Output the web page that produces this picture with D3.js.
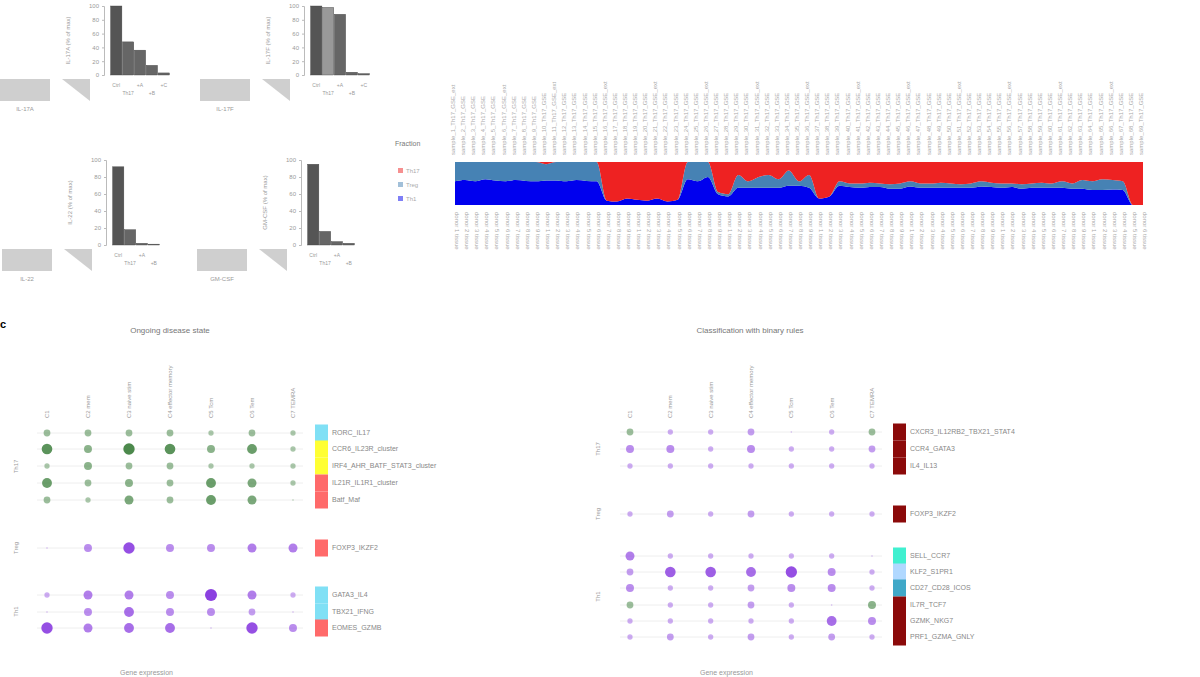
<!DOCTYPE html>
<html><head><meta charset="utf-8">
<script src="https://cdn.jsdelivr.net/npm/d3@7"></script>
<style>body{margin:0;background:#fff;font-family:Arial,"Liberation Sans",sans-serif}</style>
</head><body><svg id="c" width="1200" height="677"></svg>
<script>
// ---- data ----
const barPanels = [
  {name:"IL-17A", cats:["Ctrl","Th17","+A","+B","+C"], values:[100,48,36,14,3]},
  {name:"IL-17F", cats:["Ctrl","Th17","+A","+B","+C"], values:[100,98,88,4,2]},
  {name:"IL-22",  cats:["Ctrl","Th17","+A","+B"], values:[92,18,2,1]},
  {name:"GM-CSF", cats:["Ctrl","Th17","+A","+B"], values:[95,16,4,2]}
];
const stackRed   = [0,0,0,0,0,0,0,0,0,0.05,0,0,0,0,0,
  0.9,0.92,0.85,0.88,0.9,0.85,0.92,0.88,
  0,0,0,0.7,0.75,
  0.3,0.45,0.35,0.3,0.4,0.2,0.45,0.3,
  0.85,0.8,
  0.45,0.5,0.5,0.48,0.5,0.52,0.5,0.45,0.5,0.5,0.48,0.5,0.52,0.5,0.45,0.48,0.5,0.5,0.52,0.5,0.48,0.5,0.45,0.5,0.42,0.45,0.4,0.42,0.45,
  1,1];
const stackSteel = [0.45,0.42,0.45,0.4,0.43,0.45,0.42,0.44,0.45,0.38,0.43,0.45,0.42,0.44,0.45,
  0,0,0,0,0,0,0,0,
  0.4,0.45,0.35,0.05,0.05,
  0.3,0.15,0.25,0.3,0.2,0.35,0.1,0.3,
  0,0,
  0.1,0.08,0.1,0.1,0.08,0.1,0.12,0.12,0.1,0.1,0.12,0.1,0.08,0.1,0.12,0.1,0.1,0.08,0.1,0.1,0.12,0.1,0.15,0.12,0.2,0.2,0.25,0.22,0.2,
  0,0];
const stackLegend = ["Th17","Treg","Th1"];
const dotCols = ["C1","C2","C3","C4","C5","C6","C7"];
const leftGenes = ["RORC_IL17","CCR6_IL23R_cluster","IRF4_AHR_BATF_STAT3_cluster","IL21R_IL1R1_cluster","Batf_Maf","FOXP3_IKZF2","GATA3_IL4","TBX21_IFNG","EOMES_GZMB"];
const leftGroups = [0,0,0,0,0,1,2,2,2];
const leftBands = ["#80e0f5","#ffff33","#ffff33","#ff6a6a","#ff6a6a","#ff6a6a","#80e0f5","#80e0f5","#ff6a6a"];
const leftVals = [
 [2,2,2,2,1,2,1],[6,3,7,6,3,5,1],[1,3,2,2,1,1,1],[5,2,3,2,5,4,1],[2,1,4,2,5,4,0],
 [0,3,7,3,3,4,4],[1,4,4,3,8,4,1],[0,3,5,3,3,2,0],[7,4,5,5,0,7,3]];
const rightGenes = ["CXCR3_IL12RB2_TBX21_STAT4","CCR4_GATA3","IL4_IL13","FOXP3_IKZF2","SELL_CCR7","KLF2_S1PR1","CD27_CD28_ICOS","IL7R_TCF7","GZMK_NKG7","PRF1_GZMA_GNLY"];
const rightGroups = [0,0,0,1,2,2,2,2,2,2];
const rightBands = ["#8b0a0a","#8b0a0a","#8b0a0a","#8b0a0a","#40f0d0","#b0d8ff","#40a8c8","#8b0a0a","#8b0a0a","#8b0a0a"];
const rightVals = [
 [2,1,1,2,0,1,2],[3,3,1,3,1,1,2],[1,1,1,1,1,1,1],[1,2,1,2,1,1,1],
 [4,1,1,1,1,1,0],[2,6,6,5,7,3,1],[3,1,1,2,3,3,1],[2,1,1,2,1,0,3],[1,1,1,1,1,5,3],[1,2,1,2,1,2,1]];
const rightGreen = [1,0,0,0,0,0,0,1,0,0];
const leftGreen = [1,1,1,1,1,0,0,0,0];

// ---- drawing ----
const svg = d3.select("#c");
const gray="#9a9a9a";

const bp = [{x:110,y:6,h:69},{x:310,y:6,h:69},{x:112,y:160,h:85},{x:307,y:160,h:85}];
barPanels.forEach((p,i)=>{
  const P=bp[i];
  const x=d3.scaleBand().domain(p.cats).range([P.x,P.x+p.cats.length*12]).padding(0.05);
  const y=d3.scaleLinear().domain([0,100]).range([P.y+P.h,P.y]);
  const g=svg.append("g");
  g.append("g").attr("transform",`translate(${P.x-6},0)`).call(d3.axisLeft(y).ticks(4).tickSize(2))
    .call(a=>a.selectAll("text").attr("font-size",6).attr("fill",gray)).call(a=>a.selectAll("path,line").attr("stroke","#bbb"));
  g.selectAll("rect").data(p.values).join("rect").attr("x",(d,j)=>x(p.cats[j])).attr("width",x.bandwidth())
    .attr("y",d=>y(d)).attr("height",d=>y(0)-y(d)).attr("fill",(d,j)=>j==0?"#555":(j==1&&i==1?"#999":"#666")).attr("stroke","#444").attr("stroke-width",0.4);
  g.append("text").attr("x",P.x-40).attr("y",P.y+P.h/2).attr("transform",`rotate(-90,${P.x-40},${P.y+P.h/2})`).attr("text-anchor","middle").attr("font-size",6).attr("fill",gray).text(p.name+" (% of max)");
  g.append("rect").attr("x",P.x-110).attr("y",P.y+P.h+4).attr("width",50).attr("height",22).attr("fill","#bbb").attr("opacity",0.7);
  g.append("path").attr("d",`M${P.x-48},${P.y+P.h+4}L${P.x-20},${P.y+P.h+4}L${P.x-20},${P.y+P.h+26}Z`).attr("fill","#bbb").attr("opacity",0.7);
  g.append("text").attr("x",P.x-85).attr("y",P.y+P.h+36).attr("text-anchor","middle").attr("font-size",6).attr("fill",gray).text(p.name);
  p.cats.forEach((c,j)=>g.append("text").attr("x",x(c)+x.bandwidth()/2).attr("y",P.y+P.h+12+(j%2)*8).attr("text-anchor","middle").attr("font-size",5).attr("fill",gray).text(c));
});

// stacked area
const n=stackRed.length;
const sx=d3.scaleLinear().domain([0,n-1]).range([455,1143]);
const sy=d3.scaleLinear().domain([0,1]).range([205,162]);
const rows=stackRed.map((r,i)=>({Th17:r,Treg:stackSteel[i],Th1:Math.max(0,1-r-stackSteel[i])}));
const stack=d3.stack().keys(["Th1","Treg","Th17"])(rows);
const colors={Th17:"#ee2222",Treg:"#4682b4",Th1:"#0000ee"};
svg.append("g").selectAll("path").data(stack).join("path").attr("fill",d=>colors[d.key])
  .attr("d",d3.area().x((d,i)=>sx(i)).y0(d=>sy(d[0])).y1(d=>sy(d[1])).curve(d3.curveMonotoneX));
const sg=svg.append("g").attr("fill","#aaa").attr("font-size",6);
for(let i=0;i<n;i++){
  const xx=sx(i);
  sg.append("text").attr("transform",`translate(${xx},155) rotate(-90)`).text("sample_"+(i+1)+"_Th17_GSE"+(i%5==0?"_ext":""));
  sg.append("text").attr("transform",`translate(${xx},212) rotate(90)`).text("donor "+(i%9+1)+" tissue");
}
svg.append("text").attr("x",395).attr("y",146).attr("font-size",7).attr("fill","#777").text("Fraction");
stackLegend.forEach((k,i)=>{svg.append("rect").attr("x",398).attr("y",168+i*14).attr("width",5).attr("height",5).attr("fill",colors[k]).attr("opacity",0.5);
  svg.append("text").attr("x",406).attr("y",173+i*14).attr("font-size",6).attr("fill","#aaa").text(k);});

function dotPlot(cfg){
  const {x0,genes,groups,bands,vals,green,title,titleX,colX,rowY,bandX,label}=cfg;
  const g=svg.append("g");
  const x=d3.scalePoint().domain(dotCols).range(colX);
  const r=d3.scaleSqrt().domain([0,8]).range([0.8,6]);
  g.append("text").attr("x",titleX).attr("y",333).attr("text-anchor","middle").attr("font-size",8).attr("fill","#777").text(title);
  dotCols.forEach((c,j)=>g.append("text").attr("transform",`translate(${x(c)+2},${418}) rotate(-90)`).attr("font-size",6).attr("fill","#999").text(c+" "+["","mem","naive stim","effector memory","Tcm","Tem","TEMRA"][j]));
  genes.forEach((gn,i)=>{
    const y=rowY[i];
    g.append("line").attr("x1",colX[0]-10).attr("x2",colX[1]+10).attr("y1",y).attr("y2",y).attr("stroke","#eee");
    dotCols.forEach((c,j)=>g.append("circle").attr("cx",x(c)).attr("cy",y).attr("r",r(vals[i][j]))
      .attr("fill",green[i]&&(cfg.kind=="L"||j==0||j==6)?"#3a7d3a":"#8a3ee0").attr("opacity",0.35+0.08*vals[i][j]));
    g.append("rect").attr("x",bandX).attr("y",y-8.5).attr("width",13).attr("height",17).attr("fill",bands[i]);
    g.append("text").attr("x",bandX+17).attr("y",y+2).attr("font-size",7).attr("fill","#888").text(gn);
  });
  [0,1,2].forEach(k=>{const ys=rowY.filter((_,i)=>groups[i]==k);const m=(d3.min(ys)+d3.max(ys))/2;
    g.append("text").attr("transform",`translate(${x0},${m}) rotate(-90)`).attr("text-anchor","middle").attr("font-size",6).attr("fill","#999").text(["Th17","Treg","Th1"][k]);});
  g.append("text").attr("x",titleX-50).attr("y",675).attr("font-size",7).attr("fill","#999").text(label);
}
dotPlot({kind:"L",x0:18,genes:leftGenes,groups:leftGroups,bands:leftBands,vals:leftVals,green:leftGreen,title:"Ongoing disease state",titleX:170,
  colX:[47,293],rowY:[433,449,466,483,500,548,595,612,628],bandX:315,label:"Gene expression"});
dotPlot({kind:"R",x0:600,genes:rightGenes,groups:rightGroups,bands:rightBands,vals:rightVals,green:rightGreen,title:"Classification with binary rules",titleX:750,
  colX:[630,872],rowY:[432,449,466,514,556,572,588,605,621,637],bandX:893,label:"Gene expression"});
svg.append("text").attr("x",0).attr("y",328).attr("font-size",11).attr("font-weight","bold").text("c");
</script></body></html>
